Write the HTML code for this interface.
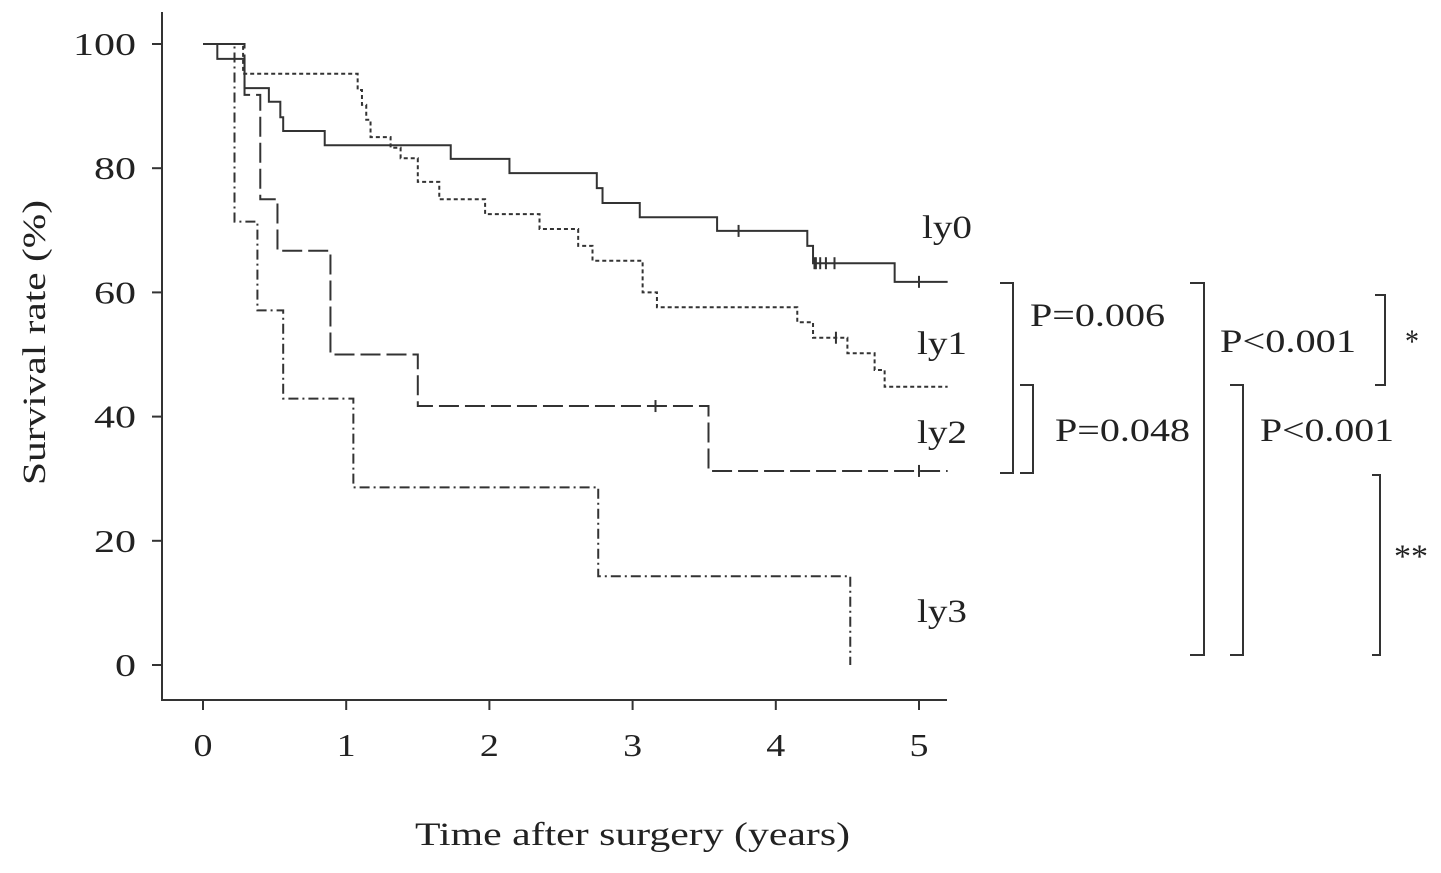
<!DOCTYPE html>
<html><head><meta charset="utf-8"><style>
body{margin:0;background:#fff}
svg text{font-family:"Liberation Serif",serif;fill:#222}
</style></head><body>
<svg id="chart" width="1441" height="868" viewBox="0 0 1441 868" xmlns="http://www.w3.org/2000/svg">
<g id="axes"></g>
<g id="series"></g>
<g id="annot"></g>
</svg>
<script>
const xTicks=[0,1,2,3,4,5];
const yTicks=[0,20,40,60,80,100];
const ly0T=[0,0.1,0.29,0.46,0.54,0.56,0.85,1.73,2.14,2.75,2.79,3.05,3.59,4.22,4.26,4.83,5.2];
const ly0V=[100,97.6,92.9,90.7,88.2,86,83.7,81.5,79.2,76.8,74.4,72.1,69.9,67.5,64.7,61.7,61.7];
const ly0C=[3.74,4.27,4.28,4.31,4.35,4.41,5.0];
const ly1T=[0,0.28,1.08,1.11,1.14,1.17,1.31,1.38,1.5,1.65,1.97,2.35,2.62,2.72,3.07,3.17,4.15,4.26,4.5,4.69,4.76,5.2];
const ly1V=[100,95.2,92.6,90.2,87.8,85,83.3,81.6,77.8,75,72.6,70.2,67.5,65.1,60,57.6,55.2,52.7,50.2,47.5,44.8,44.8];
const ly1C=[4.42];
const ly2T=[0,0.29,0.4,0.52,0.89,1.5,3.53,5.2];
const ly2V=[100,91.8,75,66.7,50,41.7,31.25,31.25];
const ly2C=[3.16,5.0];
const ly3T=[0,0.22,0.38,0.56,1.05,2.76,4.52];
const ly3V=[100,71.4,57.1,42.9,28.6,14.3,0];
const X=t=>203+143.2*t, Y=v=>665-6.21*v;
const NS='http://www.w3.org/2000/svg';
function mk(p,tag,at,txt){const e=document.createElementNS(NS,tag);for(const k in at)e.setAttribute(k,at[k]);if(txt!==undefined)e.textContent=txt;p.appendChild(e);return e;}
const ax=document.getElementById('axes');
let e=mk(ax,'path',{d:'M162 12V700H947',fill:'none',stroke:'#333','stroke-width':2});


xTicks.forEach(t=>{
 let l=mk(ax,'line',{x1:X(t),x2:X(t),y1:700,y2:710,stroke:'#333','stroke-width':2});
 
 
 let tx=mk(ax,'text',{x:X(t),y:756,'text-anchor':'middle','font-size':32,textLength:19,lengthAdjust:'spacingAndGlyphs'},t);
 
 
});
yTicks.forEach(v=>{
 const s=String(v);
 let l=mk(ax,'line',{x1:152,x2:162,y1:Y(v),y2:Y(v),stroke:'#333','stroke-width':2});
 
 
 let tx=mk(ax,'text',{x:136,y:Y(v)+11,'text-anchor':'end','font-size':32,textLength:21*s.length,lengthAdjust:'spacingAndGlyphs'},s);
 
 
});
let xt=mk(ax,'text',{x:415,y:845,'font-size':33,textLength:435,lengthAdjust:'spacingAndGlyphs'},'Time after surgery (years)');


let yt=mk(ax,'text',{x:0,y:0,'font-size':33,textLength:285,lengthAdjust:'spacingAndGlyphs',transform:'translate(45 485) rotate(-90)'},'Survival rate (%)');


const sg=document.getElementById('series');
function curve(T,V,C,dash,name){
 let d='M'+X(T[0])+' '+Y(V[0]);
 for(let i=1;i<T.length;i++){d+='H'+X(T[i])+'V'+Y(V[i]);}
 let p=mk(sg,'path',{d:d,fill:'none',stroke:'#333','stroke-width':2,'stroke-dasharray':dash});
 
 
 C.forEach(c=>{let v=V[0];for(let i=0;i<T.length;i++)if(T[i]<=c)v=V[i];
  let m=mk(sg,'path',{d:`M${X(c)} ${Y(v)-6}v12`,stroke:'#333','stroke-width':2});
  
  });
}
curve(ly0T,ly0V,ly0C,'none','ly0');
curve(ly1T,ly1V,ly1C,'4 3','ly1');
curve(ly2T,ly2V,ly2C,'20 6','ly2');
curve(ly3T,ly3V,[],'10 4 2 4','ly3');
const an=document.getElementById('annot');
[['ly0',922,238],['ly1',917,354],['ly2',917,443],['ly3',917,622]].forEach(a=>{
 let t=mk(an,'text',{x:a[1],y:a[2],'font-size':33,textLength:50,lengthAdjust:'spacingAndGlyphs'},a[0]);
 
 
});
[[1000,1013,283,473,'P=0.006',1030,326,135],[1020,1033,385,473,'P=0.048',1055,441,135],[1190,1204,283,655,'P<0.001',1220,352,136],[1230,1243,385,655,'P<0.001',1260,441,134],[1375,1385,295,385,'*',1405,352,14],[1372,1380,475,655,'**',1394,567,34]].forEach(b=>{
 let p=mk(an,'path',{d:`M${b[0]} ${b[2]}H${b[1]}V${b[3]}H${b[0]}`,fill:'none',stroke:'#333','stroke-width':2});
 
 
 let t=mk(an,'text',{x:b[5],y:b[6],'font-size':33,textLength:b[7],lengthAdjust:'spacingAndGlyphs'},b[4]);
 
 
});
</script>
</body></html>
